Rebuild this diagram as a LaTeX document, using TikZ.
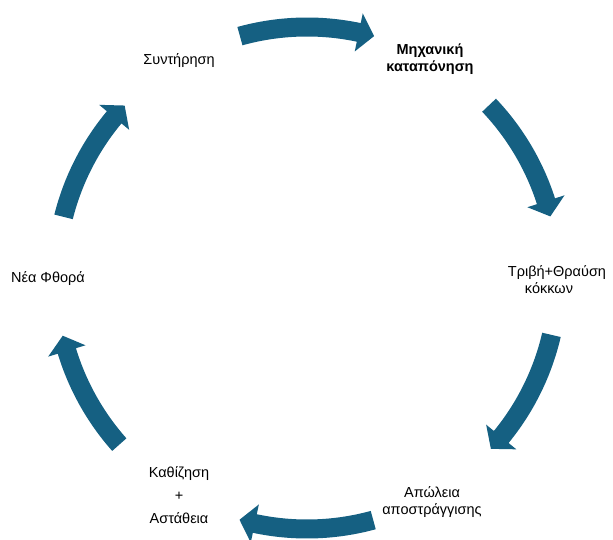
\documentclass[tikz,border=0pt]{standalone}
\usepackage{fontspec}
\setmainfont{Liberation Sans}
\definecolor{arrowteal}{HTML}{156082}
\newcommand\cyclarrow[2]{% #1 tail angle, #2 tip angle
  \pgfmathsetmacro\hbk{#2+3.6}
  \fill[arrowfill] (#1:260.5pt) arc[start angle=#1, end angle=\hbk, radius=260.5pt]
    -- (\hbk:270.5pt) -- (#2:251pt) -- (\hbk:231.5pt) -- (\hbk:241.5pt)
    arc[start angle=\hbk, end angle=#1, radius=241.5pt] -- cycle;}
\begin{document}
\begin{tikzpicture}[x=1pt,y=1pt,
  arrowfill/.style={fill=arrowteal},
  lbl/.style={align=center, inner sep=0pt, text=black, font=\fontsize{14.5}{17}\selectfont}]
\useasboundingbox (0,0) rectangle (613,540);
\begin{scope}[shift={(307,262)}]
  \cyclarrow{105.5}{74.5}
  \cyclarrow{43.5}{14.2}
  \cyclarrow{-13.1}{-42.9}
  \cyclarrow{-74.7}{-105.6}
  \cyclarrow{-138.4}{-166.7}
  \cyclarrow{165.9}{136.6}
\end{scope}
\node[lbl] (syn) at (179,479.5) {Συντήρηση};
\node[lbl, font=\fontsize{14.5}{17}\selectfont\bfseries] (mix) at (430,481) {Μηχανική\\καταπόνηση};
\node[lbl] (tri) at (557,260) {Τριβή+Θραύση\\κόκκων\hspace*{16pt}};
\node[lbl] (apo) at (432,37.5) {Απώλεια\\αποστράγγισης};
\node[lbl] (kat) at (179,44.5) {Καθίζηση\\[6pt]+\\[6pt]Αστάθεια};
\node[lbl] (nea) at (48,261.5) {Νέα Φθορά};
\end{tikzpicture}
\end{document}
